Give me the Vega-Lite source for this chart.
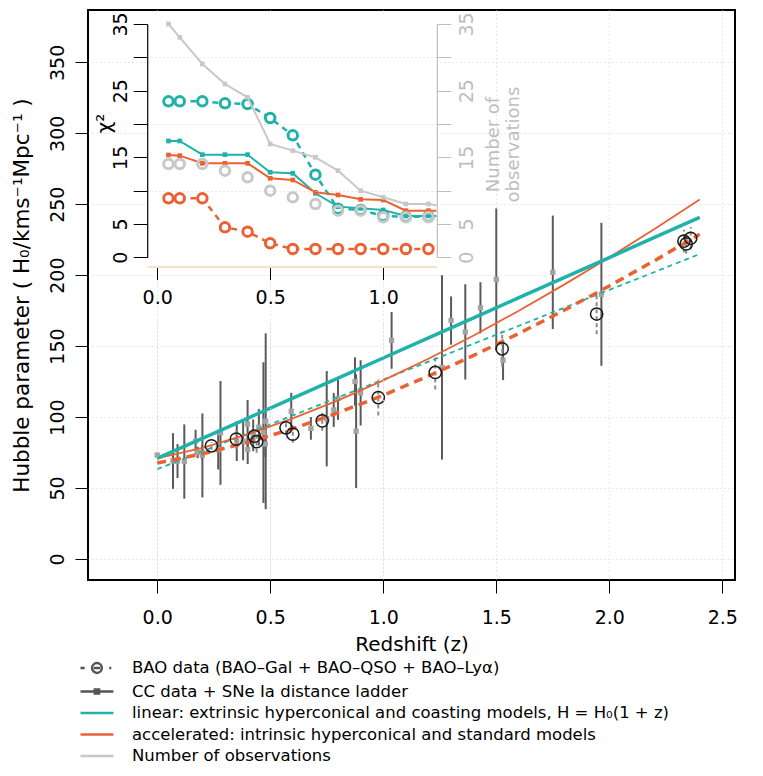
{
  "$schema": "https://vega.github.io/schema/vega-lite/v6.json",
  "width": 647,
  "height": 570,
  "autosize": {"type": "none"},
  "padding": {"left": 88, "top": 10, "right": 28, "bottom": 196},
  "config": {
    "font": "DejaVu Sans",
    "view": {"stroke": "black", "strokeWidth": 2},
    "axis": {
      "labelFont": "DejaVu Sans", "titleFont": "DejaVu Sans",
      "labelColor": "black", "titleColor": "black", "titleFontWeight": "normal",
      "tickColor": "black", "domainColor": "black", "labelFontSize": 19, "titleFontSize": 20,
      "labelFlush": false, "labelOverlap": false
    },
    "legend": {"labelFont": "DejaVu Sans"}
  },
  "datasets": {
    "cc": [
      {"z": 0, "H": 73.2, "lo": 71.9, "hi": 74.5},
      {"z": 0.07, "H": 69, "lo": 49.4, "hi": 88.6},
      {"z": 0.09, "H": 69, "lo": 57, "hi": 81},
      {"z": 0.12, "H": 68.6, "lo": 42.4, "hi": 94.8},
      {"z": 0.17, "H": 83, "lo": 75, "hi": 91},
      {"z": 0.179, "H": 75, "lo": 71, "hi": 79},
      {"z": 0.199, "H": 75, "lo": 70, "hi": 80},
      {"z": 0.2, "H": 72.9, "lo": 43.3, "hi": 102.5},
      {"z": 0.27, "H": 77, "lo": 63, "hi": 91},
      {"z": 0.28, "H": 88.8, "lo": 52.2, "hi": 125.4},
      {"z": 0.352, "H": 83, "lo": 69, "hi": 97},
      {"z": 0.3802, "H": 83, "lo": 69.5, "hi": 96.5},
      {"z": 0.4, "H": 95, "lo": 78, "hi": 112},
      {"z": 0.4004, "H": 77, "lo": 66.8, "hi": 87.2},
      {"z": 0.4247, "H": 87.1, "lo": 75.9, "hi": 98.3},
      {"z": 0.4497, "H": 92.8, "lo": 79.9, "hi": 105.7},
      {"z": 0.47, "H": 89, "lo": 39.4, "hi": 138.6},
      {"z": 0.4783, "H": 80.9, "lo": 71.9, "hi": 89.9},
      {"z": 0.48, "H": 97, "lo": 35, "hi": 159},
      {"z": 0.593, "H": 104, "lo": 91, "hi": 117},
      {"z": 0.68, "H": 92, "lo": 84, "hi": 100},
      {"z": 0.75, "H": 98.8, "lo": 65.2, "hi": 132.4},
      {"z": 0.781, "H": 105, "lo": 93, "hi": 117},
      {"z": 0.8, "H": 113.1, "lo": 98, "hi": 128.2},
      {"z": 0.875, "H": 125, "lo": 108, "hi": 142},
      {"z": 0.88, "H": 90, "lo": 50, "hi": 130},
      {"z": 0.9, "H": 117, "lo": 94, "hi": 140},
      {"z": 1.037, "H": 154, "lo": 134, "hi": 174},
      {"z": 1.26, "H": 135, "lo": 70, "hi": 200},
      {"z": 1.3, "H": 168, "lo": 151, "hi": 185},
      {"z": 1.363, "H": 160, "lo": 126.4, "hi": 193.6},
      {"z": 1.43, "H": 177, "lo": 159, "hi": 195},
      {"z": 1.5, "H": 197, "lo": 147, "hi": 247},
      {"z": 1.53, "H": 140, "lo": 126, "hi": 154},
      {"z": 1.75, "H": 202, "lo": 162, "hi": 242},
      {"z": 1.965, "H": 186.5, "lo": 136.1, "hi": 236.9}
    ],
    "bao": [
      {"z": 0.24, "H": 79.7, "lo": 77.0, "hi": 82.4},
      {"z": 0.35, "H": 84.4, "lo": 77.4, "hi": 91.4},
      {"z": 0.43, "H": 86.5, "lo": 82.8, "hi": 90.2},
      {"z": 0.44, "H": 82.6, "lo": 74.8, "hi": 90.4},
      {"z": 0.57, "H": 92.4, "lo": 87.9, "hi": 96.9},
      {"z": 0.6, "H": 87.9, "lo": 81.8, "hi": 94.0},
      {"z": 0.73, "H": 97.3, "lo": 90.3, "hi": 104.3},
      {"z": 0.978, "H": 113.7, "lo": 101, "hi": 126.5},
      {"z": 1.23, "H": 131.4, "lo": 119.4, "hi": 143.4},
      {"z": 1.526, "H": 148.1, "lo": 135.4, "hi": 160.8},
      {"z": 1.944, "H": 172.6, "lo": 158.4, "hi": 186.8},
      {"z": 2.33, "H": 224, "lo": 216, "hi": 232},
      {"z": 2.34, "H": 222, "lo": 215, "hi": 229},
      {"z": 2.36, "H": 226, "lo": 218, "hi": 234}
    ],
    "models": [
      {"z": 0, "model": "linCC", "H": 70.8}, {"z": 0.2, "model": "linCC", "H": 85.0}, {"z": 0.4, "model": "linCC", "H": 99.1},
      {"z": 0.6, "model": "linCC", "H": 113.3}, {"z": 0.8, "model": "linCC", "H": 127.4}, {"z": 1.0, "model": "linCC", "H": 141.6},
      {"z": 1.2, "model": "linCC", "H": 155.8}, {"z": 1.4, "model": "linCC", "H": 169.9}, {"z": 1.6, "model": "linCC", "H": 184.1},
      {"z": 1.8, "model": "linCC", "H": 198.2}, {"z": 2.0, "model": "linCC", "H": 212.4}, {"z": 2.2, "model": "linCC", "H": 226.6},
      {"z": 2.4, "model": "linCC", "H": 240.7},
      {"z": 0, "model": "linBAO", "H": 63.2}, {"z": 0.2, "model": "linBAO", "H": 75.8}, {"z": 0.4, "model": "linBAO", "H": 88.5},
      {"z": 0.6, "model": "linBAO", "H": 101.1}, {"z": 0.8, "model": "linBAO", "H": 113.8}, {"z": 1.0, "model": "linBAO", "H": 126.4},
      {"z": 1.2, "model": "linBAO", "H": 139.0}, {"z": 1.4, "model": "linBAO", "H": 151.7}, {"z": 1.6, "model": "linBAO", "H": 164.3},
      {"z": 1.8, "model": "linBAO", "H": 177.0}, {"z": 2.0, "model": "linBAO", "H": 189.6}, {"z": 2.2, "model": "linBAO", "H": 202.2},
      {"z": 2.4, "model": "linBAO", "H": 214.9},
      {"z": 0, "model": "accCC", "H": 70.8}, {"z": 0.2, "model": "accCC", "H": 78.3}, {"z": 0.4, "model": "accCC", "H": 87.8},
      {"z": 0.6, "model": "accCC", "H": 99.0}, {"z": 0.8, "model": "accCC", "H": 111.7}, {"z": 1.0, "model": "accCC", "H": 125.8},
      {"z": 1.2, "model": "accCC", "H": 141.1}, {"z": 1.4, "model": "accCC", "H": 157.5}, {"z": 1.6, "model": "accCC", "H": 174.9},
      {"z": 1.8, "model": "accCC", "H": 193.3}, {"z": 2.0, "model": "accCC", "H": 212.5}, {"z": 2.2, "model": "accCC", "H": 232.5},
      {"z": 2.4, "model": "accCC", "H": 253.3},
      {"z": 0, "model": "accBAO", "H": 67.6}, {"z": 0.2, "model": "accBAO", "H": 74.0}, {"z": 0.4, "model": "accBAO", "H": 82.1},
      {"z": 0.6, "model": "accBAO", "H": 91.8}, {"z": 0.8, "model": "accBAO", "H": 103.0}, {"z": 1.0, "model": "accBAO", "H": 115.3},
      {"z": 1.2, "model": "accBAO", "H": 128.9}, {"z": 1.4, "model": "accBAO", "H": 143.4}, {"z": 1.6, "model": "accBAO", "H": 158.9},
      {"z": 1.8, "model": "accBAO", "H": 175.2}, {"z": 2.0, "model": "accBAO", "H": 192.4}, {"z": 2.2, "model": "accBAO", "H": 210.2},
      {"z": 2.4, "model": "accBAO", "H": 228.8}
    ],
    "chi": [
      {"z": 0.05, "series": "linCC", "chi": 17.45}, {"z": 0.1, "series": "linCC", "chi": 17.45}, {"z": 0.2, "series": "linCC", "chi": 15.4},
      {"z": 0.3, "series": "linCC", "chi": 15.4}, {"z": 0.4, "series": "linCC", "chi": 15.4}, {"z": 0.5, "series": "linCC", "chi": 12.75},
      {"z": 0.6, "series": "linCC", "chi": 12.6}, {"z": 0.7, "series": "linCC", "chi": 9.6}, {"z": 0.8, "series": "linCC", "chi": 7.6},
      {"z": 0.9, "series": "linCC", "chi": 7.35}, {"z": 1.0, "series": "linCC", "chi": 7.1}, {"z": 1.1, "series": "linCC", "chi": 6.2},
      {"z": 1.2, "series": "linCC", "chi": 6.2}, {"z": 1.235, "series": "linCC", "chi": 6.2},
      {"z": 0.05, "series": "accCC", "chi": 15.35}, {"z": 0.1, "series": "accCC", "chi": 15.25}, {"z": 0.2, "series": "accCC", "chi": 14.1},
      {"z": 0.3, "series": "accCC", "chi": 14.1}, {"z": 0.4, "series": "accCC", "chi": 14.1}, {"z": 0.5, "series": "accCC", "chi": 11.85},
      {"z": 0.6, "series": "accCC", "chi": 11.6}, {"z": 0.7, "series": "accCC", "chi": 9.75}, {"z": 0.8, "series": "accCC", "chi": 9.35},
      {"z": 0.9, "series": "accCC", "chi": 8.7}, {"z": 1.0, "series": "accCC", "chi": 8.6}, {"z": 1.1, "series": "accCC", "chi": 7.0},
      {"z": 1.2, "series": "accCC", "chi": 7.0}, {"z": 1.235, "series": "accCC", "chi": 7.0},
      {"z": 0.05, "series": "linBAO", "chi": 23.4}, {"z": 0.1, "series": "linBAO", "chi": 23.4}, {"z": 0.2, "series": "linBAO", "chi": 23.4},
      {"z": 0.3, "series": "linBAO", "chi": 23.1}, {"z": 0.4, "series": "linBAO", "chi": 23.0}, {"z": 0.5, "series": "linBAO", "chi": 20.9},
      {"z": 0.6, "series": "linBAO", "chi": 18.3}, {"z": 0.7, "series": "linBAO", "chi": 12.4}, {"z": 0.8, "series": "linBAO", "chi": 7.3},
      {"z": 0.9, "series": "linBAO", "chi": 7.1}, {"z": 1.0, "series": "linBAO", "chi": 6.2}, {"z": 1.1, "series": "linBAO", "chi": 6.1},
      {"z": 1.2, "series": "linBAO", "chi": 6.1},
      {"z": 0.05, "series": "accBAO", "chi": 8.85}, {"z": 0.1, "series": "accBAO", "chi": 8.85}, {"z": 0.2, "series": "accBAO", "chi": 8.85},
      {"z": 0.3, "series": "accBAO", "chi": 4.5}, {"z": 0.4, "series": "accBAO", "chi": 3.85}, {"z": 0.5, "series": "accBAO", "chi": 2.1},
      {"z": 0.6, "series": "accBAO", "chi": 1.25}, {"z": 0.7, "series": "accBAO", "chi": 1.25}, {"z": 0.8, "series": "accBAO", "chi": 1.25},
      {"z": 0.9, "series": "accBAO", "chi": 1.25}, {"z": 1.0, "series": "accBAO", "chi": 1.25}, {"z": 1.1, "series": "accBAO", "chi": 1.25},
      {"z": 1.2, "series": "accBAO", "chi": 1.25}
    ],
    "obs": [
      {"z": 0.05, "series": "nCC", "n": 35}, {"z": 0.1, "series": "nCC", "n": 33}, {"z": 0.2, "series": "nCC", "n": 29},
      {"z": 0.3, "series": "nCC", "n": 26}, {"z": 0.4, "series": "nCC", "n": 24}, {"z": 0.5, "series": "nCC", "n": 17},
      {"z": 0.6, "series": "nCC", "n": 16}, {"z": 0.7, "series": "nCC", "n": 15}, {"z": 0.8, "series": "nCC", "n": 13},
      {"z": 0.9, "series": "nCC", "n": 10}, {"z": 1.0, "series": "nCC", "n": 9}, {"z": 1.1, "series": "nCC", "n": 8},
      {"z": 1.2, "series": "nCC", "n": 8}, {"z": 1.235, "series": "nCC", "n": 7.8},
      {"z": 0.05, "series": "nBAO", "n": 14}, {"z": 0.1, "series": "nBAO", "n": 14}, {"z": 0.2, "series": "nBAO", "n": 14},
      {"z": 0.3, "series": "nBAO", "n": 13}, {"z": 0.4, "series": "nBAO", "n": 12}, {"z": 0.5, "series": "nBAO", "n": 10},
      {"z": 0.6, "series": "nBAO", "n": 9}, {"z": 0.7, "series": "nBAO", "n": 8}, {"z": 0.8, "series": "nBAO", "n": 7},
      {"z": 0.9, "series": "nBAO", "n": 7}, {"z": 1.0, "series": "nBAO", "n": 6}, {"z": 1.1, "series": "nBAO", "n": 6},
      {"z": 1.2, "series": "nBAO", "n": 6}
    ],
    "legend": [
      {"label": "BAO data (BAO–Gal + BAO–QSO + BAO–Lyα)"},
      {"label": "CC data + SNe Ia distance ladder"},
      {"label": "linear: extrinsic hyperconical and coasting models, H = H₀(1 + z)"},
      {"label": "accelerated: intrinsic hyperconical and standard models"},
      {"label": "Number of observations"}
    ],
    "panel": [{"panel": "inset"}]
  },
  "layer": [
    {
      "encoding": {
        "x": {
          "field": "z", "type": "quantitative",
          "scale": {"domain": [-0.306, 2.556], "nice": false, "zero": false},
          "axis": {
            "orient": "bottom", "title": "Redshift (z)", "values": [0, 0.5, 1, 1.5, 2, 2.5], "format": ".1f",
            "tickSize": 13, "labelPadding": 15.8, "domain": false,
            "grid": true, "gridColor": "#d3d3d3", "gridDash": [1, 3],
            "titleY": 70, "titleBaseline": "alphabetic"
          }
        }
      },
      "layer": [
        {
          "data": {"name": "cc"},
          "mark": {"type": "rule", "color": "#5a5a5a", "strokeWidth": 2},
          "encoding": {
            "y": {
              "field": "lo", "type": "quantitative",
              "scale": {"domain": [-14.9, 386.9], "nice": false, "zero": false},
              "axis": {
                "orient": "left", "title": "Hubble parameter ( H₀/kms⁻¹Mpc⁻¹ )",
                "values": [0, 50, 100, 150, 200, 250, 300, 350], "tickSize": 13,
                "labelAngle": 270, "labelAlign": "center", "labelBaseline": "alphabetic", "labelPadding": 11.7,
                "domain": false, "grid": true, "gridColor": "#d3d3d3", "gridDash": [1, 3],
                "titleAngle": 270, "titleX": -59.7, "titleBaseline": "alphabetic", "titleFontSize": 21.5
              }
            },
            "y2": {"field": "hi"}
          }
        },
        {
          "data": {"name": "cc"},
          "mark": {"type": "square", "filled": true, "color": "#a3a3a3", "size": 28, "opacity": 1},
          "encoding": {"y": {"field": "H", "type": "quantitative", "scale": {"domain": [-14.9, 386.9], "nice": false, "zero": false}}}
        },
        {
          "data": {"name": "bao"},
          "mark": {"type": "rule", "color": "#8c8c8c", "strokeWidth": 2, "strokeDash": [4, 3]},
          "encoding": {
            "y": {"field": "lo", "type": "quantitative", "scale": {"domain": [-14.9, 386.9], "nice": false, "zero": false}},
            "y2": {"field": "hi"}
          }
        },
        {
          "data": {"name": "models"},
          "transform": [{"filter": "datum.model == 'linBAO'"}],
          "mark": {"type": "line", "color": "#20B2AA", "strokeWidth": 1.8, "strokeDash": [5, 4]},
          "encoding": {"y": {"field": "H", "type": "quantitative", "scale": {"domain": [-14.9, 386.9], "nice": false, "zero": false}}}
        },
        {
          "data": {"name": "models"},
          "transform": [{"filter": "datum.model == 'accCC'"}],
          "mark": {"type": "line", "color": "#EA6233", "strokeWidth": 1.8},
          "encoding": {"y": {"field": "H", "type": "quantitative", "scale": {"domain": [-14.9, 386.9], "nice": false, "zero": false}}}
        },
        {
          "data": {"name": "models"},
          "transform": [{"filter": "datum.model == 'linCC'"}],
          "mark": {"type": "line", "color": "#20B2AA", "strokeWidth": 3.5},
          "encoding": {"y": {"field": "H", "type": "quantitative", "scale": {"domain": [-14.9, 386.9], "nice": false, "zero": false}}}
        },
        {
          "data": {"name": "models"},
          "transform": [{"filter": "datum.model == 'accBAO'"}],
          "mark": {"type": "line", "color": "#EA6233", "strokeWidth": 3.5, "strokeDash": [9, 6]},
          "encoding": {"y": {"field": "H", "type": "quantitative", "scale": {"domain": [-14.9, 386.9], "nice": false, "zero": false}}}
        },
        {
          "data": {"name": "bao"},
          "mark": {"type": "point", "shape": "circle", "filled": false, "color": "#1a1a1a", "size": 150, "strokeWidth": 1.5, "opacity": 1},
          "encoding": {"y": {"field": "H", "type": "quantitative", "scale": {"domain": [-14.9, 386.9], "nice": false, "zero": false}}}
        },
        {
          "data": {"name": "legend"},
          "transform": [{"filter": "false"}],
          "mark": {"type": "point", "filled": false, "opacity": 1, "strokeWidth": 2.5},
          "encoding": {
            "color": {
              "field": "label", "type": "nominal",
              "scale": {
                "domain": ["BAO data (BAO–Gal + BAO–QSO + BAO–Lyα)", "CC data + SNe Ia distance ladder", "linear: extrinsic hyperconical and coasting models, H = H₀(1 + z)", "accelerated: intrinsic hyperconical and standard models", "Number of observations"],
                "range": ["#555555", "#555555", "#20B2AA", "#EA6233", "#C8C8C8"]
              },
              "legend": {
                "title": null, "orient": "none", "legendX": -9, "legendY": 649.5, "direction": "vertical",
                "labelFontSize": 16.5, "labelColor": "black", "labelLimit": 1000, "labelOffset": 36,
                "symbolSize": 196, "symbolStrokeWidth": 2.5, "rowPadding": 4.5, "padding": 0, "symbolOpacity": 1
              }
            },
            "shape": {
              "field": "label", "type": "nominal",
              "scale": {
                "domain": ["BAO data (BAO–Gal + BAO–QSO + BAO–Lyα)", "CC data + SNe Ia distance ladder", "linear: extrinsic hyperconical and coasting models, H = H₀(1 + z)", "accelerated: intrinsic hyperconical and standard models", "Number of observations"],
                "range": [
                  "M-1,0H-0.4M0.9,0H1.8M3.1,0H3.4M2.05,0A0.7,0.7 0 1,1 0.65,0A0.7,0.7 0 1,1 2.05,0",
                  "M-1,0H3.7M1.05,-0.3H1.65V0.3H1.05Z",
                  "M-1,0H3.7",
                  "M-1,0H3.7",
                  "M-1,0H3.7"
                ]
              }
            }
          }
        }
      ]
    },
    {
      "data": {"name": "panel"},
      "mark": {"type": "rect", "color": "white"},
      "encoding": {
        "x": {
          "datum": -0.044, "type": "quantitative",
          "scale": {"domain": [-0.044, 1.237], "range": [59.2, 348.8], "nice": false, "zero": false},
          "axis": {"orient": "bottom", "values": [0, 0.5, 1], "grid": true, "gridColor": "#d3d3d3", "gridDash": [1, 3], "labels": false, "ticks": false, "domain": false, "title": null, "zindex": 1}
        },
        "x2": {"datum": 1.237},
        "y": {
          "datum": -1.4, "type": "quantitative",
          "scale": {"domain": [-1.4, 36.4], "range": [256.6, 4.6], "nice": false, "zero": false},
          "axis": {"orient": "left", "values": [10, 20, 30], "grid": true, "gridColor": "#d3d3d3", "gridDash": [1, 3], "labels": false, "ticks": false, "domain": false, "title": null, "zindex": 1}
        },
        "y2": {"datum": 36.4}
      }
    },
    {
      "data": {"name": "chi"},
      "encoding": {
        "x": {
          "field": "z", "type": "quantitative",
          "scale": {"domain": [-0.044, 1.237], "range": [59.2, 348.8], "nice": false, "zero": false},
          "axis": {
            "orient": "bottom", "offset": -313.4, "values": [0, 0.5, 1], "format": ".1f", "tickSize": 13,
            "labelPadding": 9.2, "grid": false, "title": null, "domain": true, "domainColor": "#f5e3c6", "domainWidth": 2, "zindex": 1
          }
        },
        "y": {
          "field": "chi", "type": "quantitative",
          "scale": {"domain": [0, 35], "range": [247.3, 14], "nice": false, "zero": false},
          "axis": {
            "orient": "left", "offset": -59.2, "values": [0, 5, 10, 15, 20, 25, 30, 35],
            "labelExpr": "(datum.value == 0 || datum.value % 10 == 5) ? datum.label : ''",
            "tickSize": 14, "labelAngle": 270, "labelAlign": "center", "labelBaseline": "alphabetic", "labelPadding": 6.5,
            "grid": false, "domainWidth": 1.2, "zindex": 1,
            "title": "χ²", "titleAngle": 270, "titleX": -43, "titleY": 113, "titleBaseline": "middle", "titleAlign": "center", "titleFontSize": 20
          }
        }
      },
      "layer": [
        {"transform": [{"filter": "datum.series == 'linBAO'"}], "mark": {"type": "line", "color": "#20B2AA", "strokeWidth": 2.5, "strokeDash": [6, 5]}},
        {"transform": [{"filter": "datum.series == 'accBAO'"}], "mark": {"type": "line", "color": "#EA6233", "strokeWidth": 2.5, "strokeDash": [6, 5]}},
        {"transform": [{"filter": "datum.series == 'linBAO'"}], "mark": {"type": "point", "shape": "circle", "filled": true, "fill": "white", "stroke": "#20B2AA", "strokeWidth": 3, "size": 90, "opacity": 1}},
        {"transform": [{"filter": "datum.series == 'accBAO'"}], "mark": {"type": "point", "shape": "circle", "filled": true, "fill": "white", "stroke": "#EA6233", "strokeWidth": 3, "size": 90, "opacity": 1}},
        {"transform": [{"filter": "datum.series == 'linCC'"}], "mark": {"type": "line", "color": "#20B2AA", "strokeWidth": 2}},
        {"transform": [{"filter": "datum.series == 'linCC' && datum.z <= 1.2"}], "mark": {"type": "square", "filled": true, "color": "#20B2AA", "size": 22, "opacity": 1}},
        {"transform": [{"filter": "datum.series == 'accCC'"}], "mark": {"type": "line", "color": "#EA6233", "strokeWidth": 2}},
        {"transform": [{"filter": "datum.series == 'accCC' && datum.z <= 1.2"}], "mark": {"type": "square", "filled": true, "color": "#EA6233", "size": 22, "opacity": 1}}
      ]
    },
    {
      "data": {"name": "obs"},
      "encoding": {
        "x": {
          "field": "z", "type": "quantitative",
          "scale": {"domain": [-0.044, 1.237], "range": [59.2, 348.8], "nice": false, "zero": false},
          "axis": null
        },
        "y": {
          "field": "n", "type": "quantitative",
          "scale": {"domain": [0, 35], "range": [247.3, 14], "nice": false, "zero": false},
          "axis": {
            "orient": "right", "offset": -298.2, "values": [0, 5, 10, 15, 20, 25, 30, 35],
            "labelExpr": "(datum.value == 0 || datum.value % 10 == 5) ? datum.label : ''",
            "tickSize": 14, "labelAngle": 270, "labelAlign": "center", "labelBaseline": "top", "labelPadding": 6.5,
            "labelColor": "#bebebe", "tickColor": "#bebebe", "domainColor": "#bebebe", "domainWidth": 1.2,
            "grid": false, "zindex": 1,
            "title": ["Number of", "observations"], "titleColor": "#bebebe", "titleAngle": 270, "titleBaseline": "top",
            "titleAlign": "center", "titleX": 48, "titleY": 134, "titleFontSize": 18, "titleLineHeight": 20
          }
        }
      },
      "layer": [
        {"transform": [{"filter": "datum.series == 'nCC'"}], "mark": {"type": "line", "color": "#C8C8C8", "strokeWidth": 2}},
        {"transform": [{"filter": "datum.series == 'nCC' && datum.z <= 1.2"}], "mark": {"type": "square", "filled": true, "color": "#C8C8C8", "size": 22, "opacity": 1}},
        {"transform": [{"filter": "datum.series == 'nBAO'"}], "mark": {"type": "point", "shape": "circle", "filled": false, "color": "#C8C8C8", "strokeWidth": 3, "size": 90, "opacity": 1}}
      ]
    }
  ],
  "resolve": {"scale": {"x": "independent", "y": "independent"}}
}
